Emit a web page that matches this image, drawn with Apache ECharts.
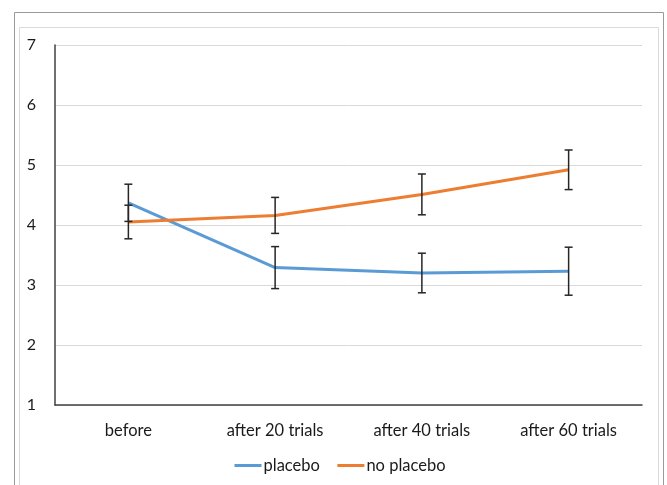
<!DOCTYPE html>
<html>
<head>
<meta charset="utf-8">
<script src="https://cdn.jsdelivr.net/npm/echarts@6/dist/echarts.min.js"></script>
<style>html,body{margin:0;padding:0;background:#fff;}#c{width:667px;height:485px;}</style>
</head>
<body>
<div id="c"></div>
<script>
var categories = ['before', 'after 20 trials', 'after 40 trials', 'after 60 trials'];
var placeboMean = [4.37, 3.29, 3.20, 3.23];
var placeboErr = [0.31, 0.35, 0.33, 0.40];
var noPlaceboMean = [4.05, 4.16, 4.51, 4.92];
var noPlaceboErr = [0.28, 0.30, 0.34, 0.33];
var yTicks = [1, 2, 3, 4, 5, 6, 7];

var FONT = 'Lato';
var chart = echarts.init(document.getElementById('c'), null, {renderer: 'canvas'});

function errData(mean, err) {
  return mean.map(function (m, i) { return [i, m - err[i], m + err[i]]; });
}
function errRender(params, api) {
  var x = api.value(0);
  var lo = api.coord([x, api.value(1)]);
  var hi = api.coord([x, api.value(2)]);
  var hw = 4;
  var st = {stroke: '#262626', lineWidth: 1.5};
  return {
    type: 'group',
    children: [
      {type: 'line', shape: {x1: lo[0], y1: lo[1], x2: hi[0], y2: hi[1]}, style: st},
      {type: 'line', shape: {x1: lo[0] - hw, y1: lo[1], x2: lo[0] + hw, y2: lo[1]}, style: st},
      {type: 'line', shape: {x1: hi[0] - hw, y1: hi[1], x2: hi[0] + hw, y2: hi[1]}, style: st}
    ]
  };
}

chart.setOption({
  animation: false,
  backgroundColor: '#fff',
  graphic: [
    {type: 'rect', shape: {x: 14.5, y: 12.5, width: 649, height: 490}, style: {fill: 'none', stroke: '#9a9a9a', lineWidth: 1}, z: -10},
    {type: 'rect', shape: {x: 19.5, y: 27.5, width: 639, height: 480}, style: {fill: 'none', stroke: '#d9d9d9', lineWidth: 1}, z: -10}
  ],
  grid: {left: 55, right: 25, top: 45, bottom: 80, containLabel: false},
  legend: {
    left: 233, top: 457, padding: 0,
    itemWidth: 27, itemHeight: 3, itemGap: 16,
    lineStyle: {width: 3},
    textStyle: {fontFamily: FONT, fontSize: 16.5, color: '#1a1a1a', padding: [0, 0, 0, -3]},
    data: ['placebo', 'no placebo']
  },
  xAxis: {
    type: 'category',
    data: categories,
    boundaryGap: true,
    axisLine: {lineStyle: {color: '#404040', width: 1.5}},
    axisTick: {show: false},
    axisLabel: {fontFamily: FONT, fontSize: 16.5, color: '#1a1a1a', margin: 17}
  },
  yAxis: {
    type: 'value',
    min: 1, max: 7, interval: 1,
    axisLine: {show: true, lineStyle: {color: '#404040', width: 1.5}},
    axisTick: {show: false},
    splitLine: {lineStyle: {color: '#d9d9d9', width: 1}},
    axisLabel: {fontFamily: FONT, fontSize: 16, color: '#1a1a1a', margin: 19,
      formatter: function (v) { return yTicks.indexOf(v) >= 0 ? String(v) : ''; }}
  },
  series: [
    {name: 'placebo', type: 'line', data: placeboMean, symbol: 'none', smooth: false,
      lineStyle: {color: '#5B9BD5', width: 3}, itemStyle: {color: '#5B9BD5'}, z: 3},
    {name: 'no placebo', type: 'line', data: noPlaceboMean, symbol: 'none',
      lineStyle: {color: '#ED7D31', width: 3}, itemStyle: {color: '#ED7D31'}, z: 3},
    {name: 'placebo err', type: 'custom', renderItem: errRender, data: errData(placeboMean, placeboErr), z: 4, silent: true},
    {name: 'no placebo err', type: 'custom', renderItem: errRender, data: errData(noPlaceboMean, noPlaceboErr), z: 4, silent: true}
  ]
});
</script>
</body>
</html>
